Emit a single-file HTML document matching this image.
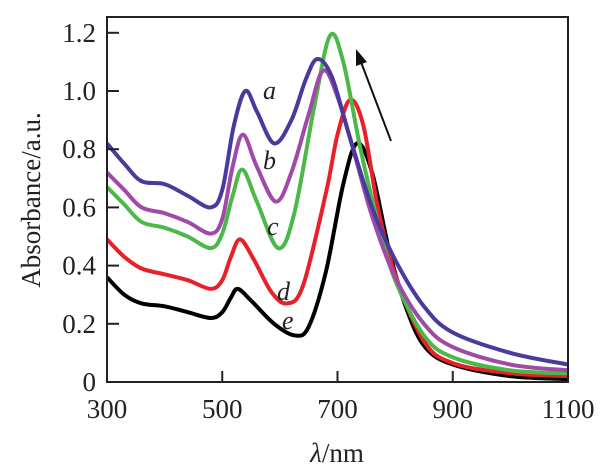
<!DOCTYPE html>
<html><head><meta charset="utf-8"><style>
html,body{margin:0;padding:0;background:#fff;}
svg{display:block;}
text{font-family:"Liberation Serif","DejaVu Serif",serif;}
</style></head><body>
<svg id="chart" width="612" height="476">
<g id="plot"></g>
</svg>
<script>
const seriesNames=['a','b','c','d','e'];
const seriesColors=['#4a3a9e','#a04aa8','#4cb848','#e8202a','#000000'];
const wl_a=[300,330,360,400,440,480,500,520,540,560,590,620,645,665,690,720,760,800,850,900,1000,1100];
const ab_a=[0.82,0.75,0.69,0.68,0.64,0.60,0.66,0.88,1.00,0.93,0.82,0.90,1.04,1.11,1.05,0.85,0.60,0.42,0.26,0.17,0.10,0.06];
const wl_b=[300,330,360,400,440,480,500,518,536,560,593,620,650,675,700,730,760,800,850,900,1000,1100];
const ab_b=[0.72,0.66,0.60,0.58,0.55,0.51,0.56,0.74,0.85,0.74,0.62,0.72,0.92,1.07,0.98,0.78,0.57,0.36,0.20,0.12,0.06,0.04];
const wl_c=[300,330,360,400,440,480,500,518,535,560,597,625,660,687,710,740,770,800,850,900,1000,1100];
const ab_c=[0.67,0.61,0.55,0.53,0.50,0.46,0.51,0.64,0.73,0.62,0.46,0.58,0.95,1.19,1.10,0.80,0.55,0.35,0.16,0.085,0.04,0.03];
const wl_d=[300,330,360,400,440,480,500,515,531,555,585,612,640,680,700,722,745,770,800,850,900,1000,1100];
const ab_d=[0.49,0.43,0.39,0.37,0.35,0.32,0.35,0.43,0.49,0.42,0.31,0.27,0.33,0.65,0.85,0.97,0.88,0.60,0.37,0.14,0.065,0.03,0.02];
const wl_e=[300,330,360,400,440,480,500,515,527,550,590,626,650,680,710,734,760,790,820,852,900,1000,1100];
const ab_e=[0.36,0.30,0.27,0.26,0.24,0.22,0.24,0.29,0.32,0.28,0.20,0.16,0.19,0.38,0.68,0.82,0.72,0.45,0.25,0.12,0.06,0.02,0.01];
const wls=[wl_a,wl_b,wl_c,wl_d,wl_e];
const abs=[ab_a,ab_b,ab_c,ab_d,ab_e];
const xTicks=[300,500,700,900,1100];
const yTicks=[0,0.2,0.4,0.6,0.8,1.0,1.2];
const yTickLabels=['0','0.2','0.4','0.6','0.8','1.0','1.2'];

const L=107,R=568,T=17,B=382;
const X=v=>L+(v-300)/800*(R-L);
const Y=v=>B-v*291;
const NS='http://www.w3.org/2000/svg';
const g=document.getElementById('plot');
function mk(t,a){const e=document.createElementNS(NS,t);for(const k in a)e.setAttribute(k,a[k]);g.appendChild(e);return e;}
const clip=mk('clipPath',{id:'cp'});
const cr=document.createElementNS(NS,'rect');cr.setAttribute('x',L);cr.setAttribute('y',T);cr.setAttribute('width',R-L);cr.setAttribute('height',B-T);clip.appendChild(cr);
function smooth(pts){let d='M'+pts[0][0]+','+pts[0][1];
for(let i=0;i<pts.length-1;i++){const p0=pts[Math.max(0,i-1)],p1=pts[i],p2=pts[i+1],p3=pts[Math.min(pts.length-1,i+2)];
const c1=[p1[0]+(p2[0]-p0[0])/6,p1[1]+(p2[1]-p0[1])/6],c2=[p2[0]-(p3[0]-p1[0])/6,p2[1]-(p3[1]-p1[1])/6];
d+=' C'+c1[0]+','+c1[1]+' '+c2[0]+','+c2[1]+' '+p2[0]+','+p2[1];}return d;}
for(let s=4;s>=0;s--){
 const pts=wls[s].map((w,i)=>[X(w),Y(abs[s][i])]);
 const p=mk('path',{d:smooth(pts),fill:'none',stroke:seriesColors[s],'stroke-width':4,'stroke-linejoin':'round','clip-path':'url(#cp)'});
 
 
}
const fr=mk('rect',{x:L,y:T,width:R-L,height:B-T,fill:'none',stroke:'#222','stroke-width':2});


const FF='"Liberation Serif","DejaVu Serif",serif';
xTicks.forEach(v=>{
 if(v>300&&v<1100){const t=mk('line',{x1:X(v),x2:X(v),y1:B,y2:B-11,stroke:'#222','stroke-width':2});
 
 }
 const tx=mk('text',{x:X(v),y:418,'text-anchor':'middle','font-size':27,fill:'#222','font-family':FF});tx.textContent=v;
 
 
});
yTicks.forEach((v,i)=>{
 if(v>0){const t=mk('line',{x1:L,x2:L+12,y1:Y(v),y2:Y(v),stroke:'#222','stroke-width':2});
 
 }
 const tx=mk('text',{x:96,y:Y(v)+9,'text-anchor':'end','font-size':27,fill:'#222','font-family':FF});tx.textContent=yTickLabels[i];
 
 
});
const yt=mk('text',{x:0,y:0,transform:'translate(40,200) rotate(-90)','text-anchor':'middle','font-size':27,fill:'#222','font-family':FF});
yt.textContent='Absorbance/a.u.';


const xt=mk('text',{x:337,y:462,'text-anchor':'middle','font-size':27,fill:'#222','font-family':FF});
xt.innerHTML='<tspan font-style="italic">λ</tspan>/nm';


const lblPos=[[263,99],[263,169],[267,235],[277,300],[282,329]];
seriesNames.forEach((n,i)=>{
 const t=mk('text',{x:lblPos[i][0],y:lblPos[i][1],'font-size':26,'font-style':'italic',fill:'#222','font-family':FF});t.textContent=n;
 
 
});
const ar=mk('line',{x1:391,y1:141,x2:361,y2:62,stroke:'#111','stroke-width':2});


const ah=mk('polygon',{points:'356,49 356,66 367,62',fill:'#111'});


</script>
</body></html>
